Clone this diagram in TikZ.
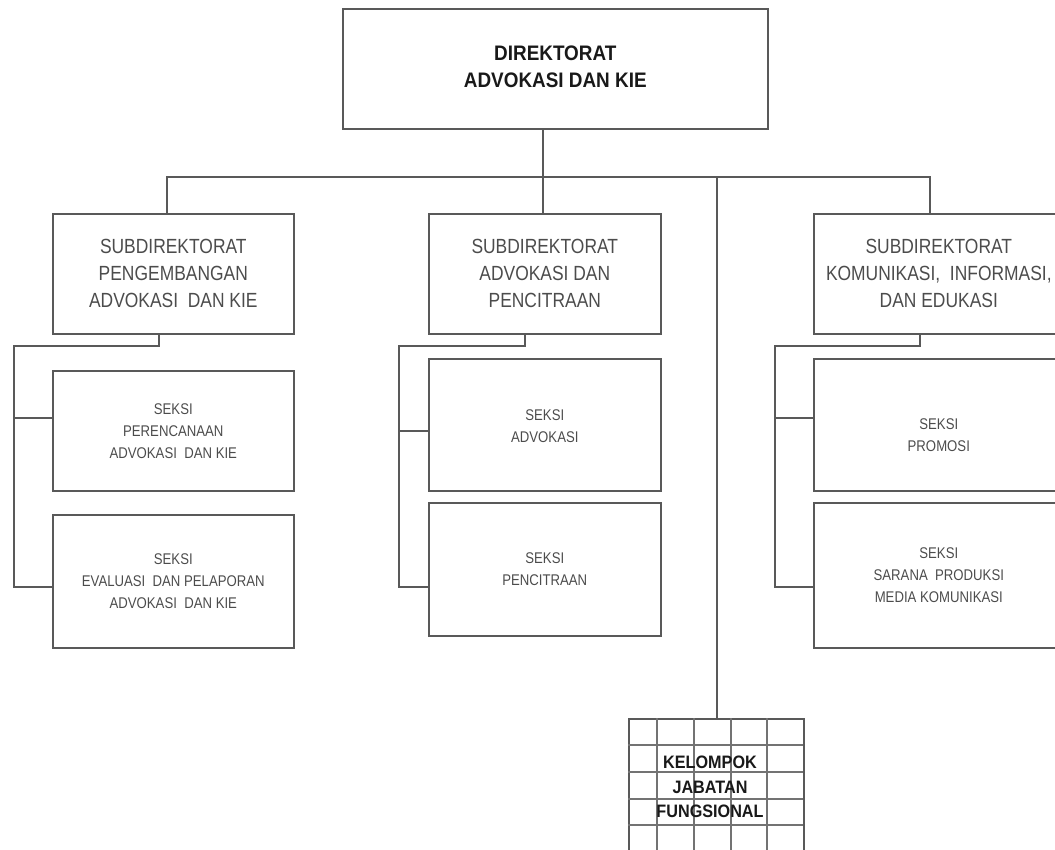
\documentclass[tikz,border=0pt]{standalone}
\usepackage{fontspec}
\setmainfont{Liberation Sans}
\newfontfamily\subfont{Liberation Sans}[FakeStretch=0.85]
\newfontfamily\headfont{Liberation Sans}[FakeStretch=0.9]
\begin{document}
\begin{tikzpicture}[x=1pt,y=-1pt,
  box/.style={draw=black!65, line width=1.6pt, rectangle, inner sep=0pt, anchor=north west},
  conn/.style={draw=black!65, line width=1.6pt},
  gridline/.style={draw=black!55, line width=1.6pt},
  toptext/.style={font=\headfont\fontsize{21}{27}\selectfont\bfseries, align=center, text=black!90},
  subtext/.style={font=\subfont\fontsize{20.5}{27}\selectfont, align=center, text=black!70},
  sektext/.style={font=\subfont\fontsize{15.5}{22}\selectfont, align=center, text=black!70},
  kjftext/.style={font=\headfont\fontsize{18}{24.5}\selectfont\bfseries, align=center, text=black!90}]
\useasboundingbox (0,0) rectangle (1055,850);
\clip (0,0) rectangle (1055,850);

% director
\node[box, minimum width=425pt, minimum height=120pt] (T) at (342,8) {};
\node[toptext] (Tt) at ([yshift=2]T.center) {DIREKTORAT\\ADVOKASI DAN KIE};

% sub-directorates
\node[box, minimum width=241pt, minimum height=120pt] (s1) at (52,213) {};
\node[subtext] (s1t) at (s1.center) {SUBDIREKTORAT\\PENGEMBANGAN\\ADVOKASI\ \ DAN KIE};
\node[box, minimum width=232pt, minimum height=120pt] (s2) at (428,213) {};
\node[subtext] (s2t) at (s2.center) {SUBDIREKTORAT\\ADVOKASI DAN\\PENCITRAAN};
\node[box, minimum width=250pt, minimum height=120pt] (s3) at (813,213) {};
\node[subtext] (s3t) at (s3.center) {SUBDIREKTORAT\\KOMUNIKASI,\ \ INFORMASI,\\DAN EDUKASI};

% sections, left column
\node[box, minimum width=241pt, minimum height=120pt] (e1) at (52,370) {};
\node[sektext] (e1t) at (e1.center) {SEKSI\\PERENCANAAN\\ADVOKASI\ \ DAN KIE};
\node[box, minimum width=241pt, minimum height=133pt] (e2) at (52,514) {};
\node[sektext] (e2t) at (e2.center) {SEKSI\\EVALUASI\ \ DAN PELAPORAN\\ADVOKASI\ \ DAN KIE};

% sections, middle column
\node[box, minimum width=232pt, minimum height=132pt] (f1) at (428,358) {};
\node[sektext] (f1t) at ([yshift=-1]f1.center) {SEKSI\\ADVOKASI};
\node[box, minimum width=232pt, minimum height=133pt] (f2) at (428,502) {};
\node[sektext] (f2t) at (f2.center) {SEKSI\\PENCITRAAN};

% sections, right column
\node[box, minimum width=250pt, minimum height=132pt] (g1) at (813,358) {};
\node[sektext] (g1t) at ([yshift=-10]g1.center) {SEKSI\\PROMOSI};
\node[box, minimum width=250pt, minimum height=145pt] (g2) at (813,502) {};
\node[sektext] (g2t) at (g2.center) {SEKSI\\SARANA\ \ PRODUKSI\\MEDIA KOMUNIKASI};

% functional group on a grid
\node[box, minimum width=175pt, minimum height=142pt] (K) at (628,718) {};
\foreach \gx in {657,694,731,767}
  \draw[gridline] (\gx,718) -- (\gx,860);
\foreach \gy in {745,772,799,825}
  \draw[gridline] (628,\gy) -- (803,\gy);
\node[kjftext] (Kt) at (710,787) {KELOMPOK\\JABATAN\\FUNGSIONAL};

% main bus
\coordinate (bL) at (167,177);
\coordinate (bM) at (543,177);
\coordinate (bK) at (717,177);
\coordinate (bR) at (930,177);
\draw[conn] (T.south -| bM) -- (bM);
\draw[conn] (s1.north -| bL) -- (bL) -- (bR) -- (s3.north -| bR);
\draw[conn] (bM) -- (s2.north -| bM);
\draw[conn] (bK) -- (K.north -| bK);

% left brackets
\coordinate (L1) at (159,346);
\coordinate (L2) at (14,418);
\coordinate (L3) at (14,587);
\draw[conn] (s1.south -| L1) -- (L1) -| (L3) -- (L3 -| e2.west);
\draw[conn] (L2) -- (L2 -| e1.west);

% middle brackets
\coordinate (M1) at (525,346);
\coordinate (M2) at (399,431);
\coordinate (M3) at (399,587);
\draw[conn] (s2.south -| M1) -- (M1) -| (M3) -- (M3 -| f2.west);
\draw[conn] (M2) -- (M2 -| f1.west);

% right brackets
\coordinate (R1) at (920,346);
\coordinate (R2) at (775,418);
\coordinate (R3) at (775,587);
\draw[conn] (s3.south -| R1) -- (R1) -| (R3) -- (R3 -| g2.west);
\draw[conn] (R2) -- (R2 -| g1.west);
\end{tikzpicture}
\end{document}
